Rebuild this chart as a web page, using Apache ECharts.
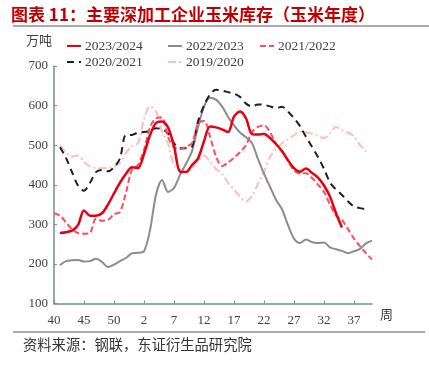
<!DOCTYPE html>
<html><head><meta charset="utf-8">
<script src="https://cdn.jsdelivr.net/npm/echarts@6/dist/echarts.min.js"></script>
<style>html,body{margin:0;padding:0;background:#fff;}#c{width:429px;height:370px;}</style>
</head><body><div id="c"></div>
<script>
const weeks = ['40','41','42','43','44','45','46','47','48','49','50','51','52','53',
  '1','2','3','4','5','6','7','8','9','10','11','12','13','14','15','16','17','18','19','20',
  '21','22','23','24','25','26','27','28','29','30','31','32','33','34','35','36','37','38','39','40'];
const seriesNames = ['2023/2024','2022/2023','2021/2022','2020/2021','2019/2020'];
const s2324 = [null,278,280,284,298,335,322,322,328,350,378,405,428,444,442,478,525,556,560,545,498,433,432,450,466,510,547,545,540,533,572,585,568,528,527,528,518,503,485,462,442,433,441,430,418,398,370,328,292,null,null,null,null,null];
const s2223 = [null,197,207,209,210,206,207,213,205,192,198,207,215,227,228,232,285,375,412,382,392,425,453,485,545,597,620,615,598,572,550,532,520,505,465,428,395,362,338,298,264,253,262,255,253,254,242,237,233,227,232,238,252,259];
const s2122 = [328,322,305,288,278,276,278,314,309,311,325,331,380,438,450,488,545,568,570,520,495,490,496,505,555,562,522,472,447,456,468,482,500,533,546,550,533,503,484,460,436,429,429,417,400,382,350,322,311,288,264,245,227,211];
const s2021 = [null,495,468,432,398,385,405,432,437,434,444,467,526,526,532,533,536,543,540,530,505,492,492,496,560,600,628,640,638,634,630,622,605,598,603,602,598,594,597,585,568,548,521,496,470,440,406,388,374,358,345,341,338,null];
const s1920 = [null,500,482,471,474,458,447,442,442,443,446,455,480,498,505,565,598,585,535,503,450,436,433,442,462,474,458,440,428,405,388,370,358,372,402,432,470,490,505,515,525,534,532,529,523,518,530,546,538,532,522,500,484,null];
const yTicks = [100,200,300,400,500,600,700];

const chart = echarts.init(document.getElementById('c'), null, {renderer:'canvas'});
const serif = '"Liberation Serif","DejaVu Serif",serif';
const cjk = '"Noto Sans CJK SC","Noto Sans",sans-serif';
const axisColor = '#6f8e93';
const styles = [
  {color:'#e60012', width:2.5, type:'solid', z:10},
  {color:'#8c8c8c', width:2, type:'solid', z:6},
  {color:'#ff4d5e', width:2, type:[6,3], z:8},
  {color:'#1f1f1f', width:2, type:[7,5], z:7},
  {color:'#ffbcc0', width:2, type:[8,3,2,3], z:5}
];
const dataSets = [s2324,s2223,s2122,s2021,s1920];
const legendPos = [[61,34],[162,34],[254,34],[61,50],[162,50]];
chart.setOption({
  animation:false,
  title:{text:'图表 11：主要深加工企业玉米库存（玉米年度）', left:6, top:1,
    textStyle:{color:'#c00000', fontSize:17, fontWeight:'bold', fontFamily:cjk}},
  legend: seriesNames.map(function(n,i){
    return {left:legendPos[i][0], top:legendPos[i][1], itemWidth:14, itemHeight:10,
      itemStyle:{opacity:0, borderWidth:0},
      textStyle:{fontFamily:serif, fontSize:13.5, color:'#404040', padding:[0,0,0,-1]},
      data:[n]};
  }),
  grid:{left:54, right:57, top:66, bottom:66.5},
  xAxis:{type:'category', data:weeks, boundaryGap:false,
    axisLine:{lineStyle:{color:axisColor, width:1.5}},
    axisTick:{inside:true, length:3, interval:4, lineStyle:{color:axisColor}},
    axisLabel:{interval:4, margin:11, fontFamily:serif, fontSize:13, color:'#404040'},
    splitLine:{show:false}},
  yAxis:{type:'value', min:100, max:700, interval:100,
    axisLine:{show:true, lineStyle:{color:axisColor, width:1.5}},
    axisTick:{show:true, inside:true, length:3, lineStyle:{color:axisColor}},
    axisLabel:{margin:6, fontFamily:serif, fontSize:13, color:'#404040',
      formatter:function(v){return yTicks.indexOf(v)>=0?String(v):'';}},
    splitLine:{show:false}},
  graphic:[
    {type:'line', shape:{x1:13,y1:26,x2:429,y2:26}, style:{stroke:'#555', lineWidth:1}},
    {type:'line', shape:{x1:13,y1:332,x2:425,y2:332}, style:{stroke:'#555', lineWidth:1}},
    {type:'text', left:26, top:34, style:{text:'万吨', font:'13px '+cjk, fill:'#404040'}},
    {type:'text', left:380, top:308, style:{text:'周', font:'13px '+cjk, fill:'#404040'}},
    {type:'text', left:23, top:337, style:{text:'资料来源：钢联，东证衍生品研究院', font:'14.3px '+cjk, fill:'#333'}}
  ],
  series: seriesNames.map(function(n,i){
    return {name:n, type:'line', data:dataSets[i], smooth:0.3, showSymbol:false, symbol:'none',
      connectNulls:false, z:styles[i].z,
      itemStyle:{color:styles[i].color},
      lineStyle:{color:styles[i].color, width:styles[i].width, type:styles[i].type}};
  })
});
</script></body></html>
